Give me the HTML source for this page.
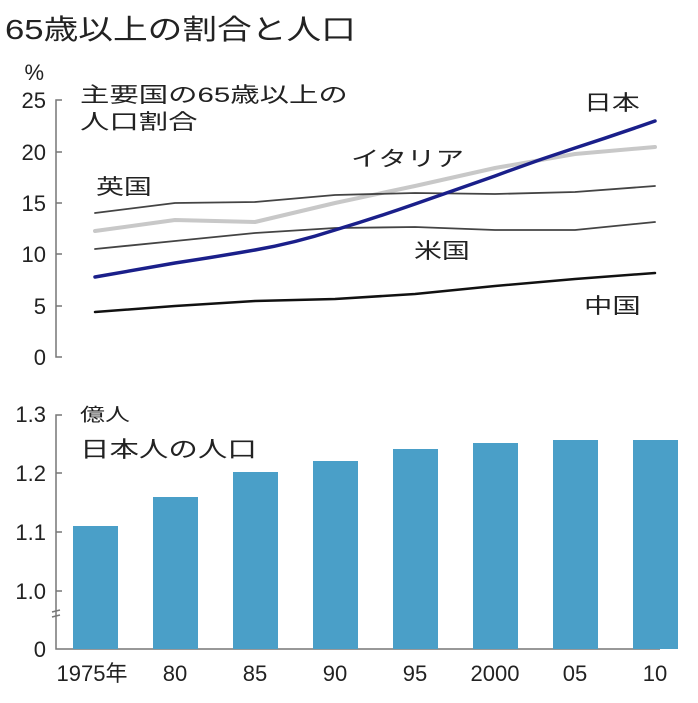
<!DOCTYPE html>
<html><head><meta charset="utf-8"><style>
body{margin:0;background:#fff;}
svg text{font-family:"Liberation Sans","Noto Sans CJK JP",sans-serif;fill:#222;}
</style></head><body>
<svg width="698" height="698" viewBox="0 0 698 698" xmlns="http://www.w3.org/2000/svg">
<text transform="translate(5,39) scale(1.24,1)" font-size="28">65歳以上の割合と人口</text>
<!-- top chart -->
<g stroke="#777" stroke-width="1.5" fill="none">
<path d="M62 100 H56 V357 H62"/>
<path d="M56 152 H62 M56 203 H62 M56 254 H62 M56 306 H62"/>
</g>
<g font-size="22" text-anchor="end">
<text x="44" y="80">%</text>
<text x="46" y="108">25</text>
<text x="46" y="160">20</text>
<text x="46" y="211">15</text>
<text x="46" y="262">10</text>
<text x="46" y="314">5</text>
<text x="46" y="365">0</text>
</g>
<text transform="translate(80,102) scale(1.4,1)" font-size="21">主要国の65歳以上の</text>
<text transform="translate(80,129) scale(1.4,1)" font-size="21">人口割合</text>
<g fill="none" stroke-linejoin="round" stroke-linecap="round">
<polyline stroke="#c8c8c8" stroke-width="4" points="95,231 175,220 255,222 335,203 415,186 495,168 575,154 655,147"/>
<polyline stroke="#444" stroke-width="1.8" points="95,213 175,203 255,202 335,195 415,193 495,194 575,192 655,186"/>
<polyline stroke="#444" stroke-width="1.8" points="95,249 175,241 255,233 335,228 415,227 495,230 575,230 655,222"/>
<polyline stroke="#111" stroke-width="2.5" points="95,312 175,306 255,301 335,299 415,294 495,286 575,279 655,273"/>
<path stroke="#1a1f8a" stroke-width="3.5" d="M95 277 Q135 270 175 263 Q215 257 255 250 Q295 243 335 230 Q375 218 415 204 Q455 190 495 176 Q535 161 575 148 Q615 135 655 121"/>
</g>
<g font-size="21">
<text transform="translate(96,194) scale(1.33,1)">英国</text>
<text transform="translate(351,166) scale(1.36,1)">イタリア</text>
<text transform="translate(584,110) scale(1.33,1)">日本</text>
<text transform="translate(414,258) scale(1.33,1)">米国</text>
<text transform="translate(584,313) scale(1.35,1)">中国</text>
</g>
<!-- bottom chart -->
<g stroke="#777" stroke-width="1.5" fill="none">
<path d="M62 415 H56 V649 H660"/>
<path d="M56 473 H62 M56 532 H62 M56 591 H62"/>
<path d="M52 612 l8 -2 M52 617 l8 -2"/>
</g>
<g font-size="22" text-anchor="end">
<text x="46" y="422">1.3</text>
<text x="46" y="481">1.2</text>
<text x="46" y="540">1.1</text>
<text x="46" y="599">1.0</text>
<text x="46" y="657">0</text>
</g>
<text transform="translate(80,421) scale(1.39,1)" font-size="18">億人</text>
<text transform="translate(80,457) scale(1.34,1)" font-size="22">日本人の人口</text>
<g fill="#4a9fc8">
<rect x="73" y="526" width="45" height="123"/>
<rect x="153" y="497" width="45" height="152"/>
<rect x="233" y="472" width="45" height="177"/>
<rect x="313" y="461" width="45" height="188"/>
<rect x="393" y="449" width="45" height="200"/>
<rect x="473" y="443" width="45" height="206"/>
<rect x="553" y="440" width="45" height="209"/>
<rect x="633" y="440" width="45" height="209"/>
</g>
<g font-size="22" text-anchor="middle">
<text x="92" y="681">1975年</text>
<text x="175" y="681">80</text>
<text x="255" y="681">85</text>
<text x="335" y="681">90</text>
<text x="415" y="681">95</text>
<text x="495" y="681">2000</text>
<text x="575" y="681">05</text>
<text x="655" y="681">10</text>
</g>
</svg>
</body></html>
